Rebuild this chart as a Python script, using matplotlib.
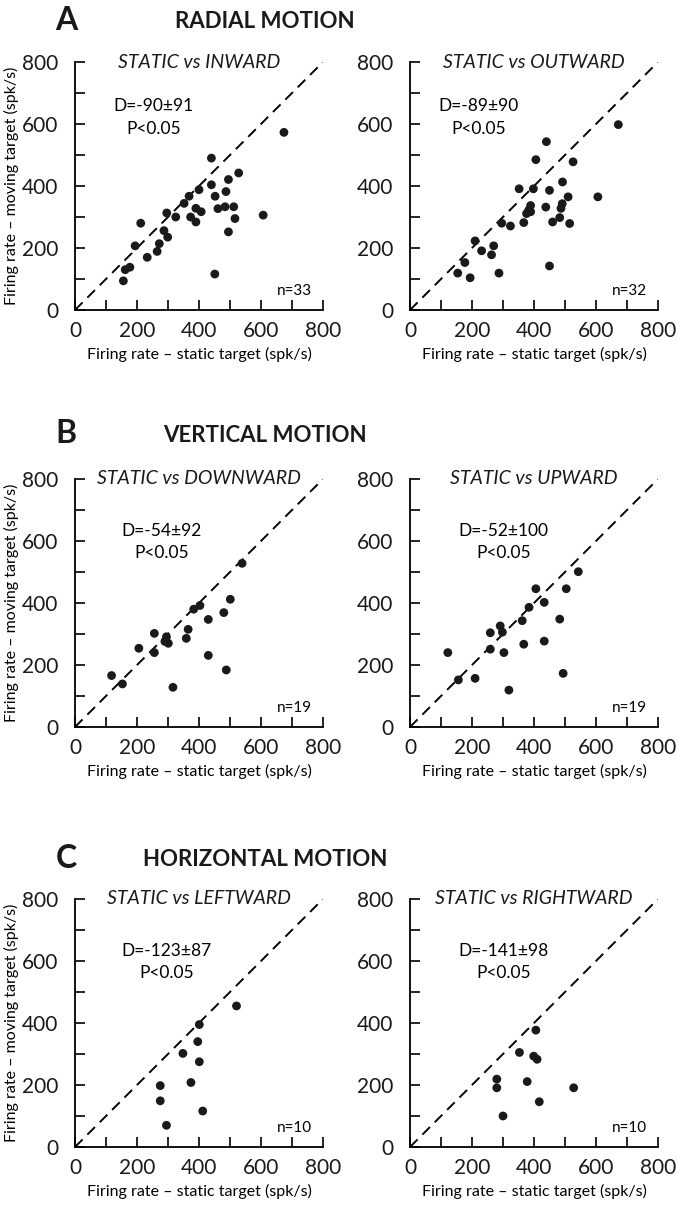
import numpy as np
import matplotlib
matplotlib.use("Agg")
import matplotlib.pyplot as plt

plt.rcParams['font.family'] = ['Lato', 'DejaVu Sans']

# static firing rate (x) vs moving-target firing rate (y), spk/s
inward_x = [674, 440, 528, 495, 440, 487, 400, 452, 368, 352, 390, 407, 461, 484, 512, 516, 607,
            495, 296, 325, 373, 390, 212, 287, 299, 272, 194, 265, 233, 177, 162, 156, 451]
inward_y = [573, 490, 442, 421, 404, 382, 388, 367, 367, 344, 328, 317, 327, 333, 333, 295, 306,
            252, 313, 300, 300, 284, 280, 256, 235, 214, 207, 189, 170, 138, 130, 94, 116]

outward_x = [672, 440, 406, 526, 492, 352, 398, 450, 510, 606, 389, 438, 491, 487, 376, 389,
             367, 460, 483, 515, 296, 324, 210, 270, 231, 263, 177, 154, 194, 287, 450, 383]
outward_y = [598, 543, 485, 478, 413, 391, 391, 386, 365, 365, 337, 332, 343, 328, 311, 317,
             282, 284, 298, 279, 280, 271, 223, 207, 191, 178, 153, 119, 104, 119, 142, 322]

downward_x = [539, 501, 480, 403, 383, 430, 365, 359, 256, 295, 290, 301, 206, 256, 430, 488, 118, 153, 316]
downward_y = [528, 412, 369, 392, 380, 347, 315, 286, 302, 291, 276, 270, 254, 240, 231, 184, 166, 139, 128]

upward_x = [543, 406, 504, 433, 384, 362, 483, 291, 259, 298, 367, 433, 259, 303, 122, 156, 210, 494, 319]
upward_y = [501, 446, 446, 402, 386, 343, 348, 326, 304, 306, 267, 277, 251, 240, 240, 152, 157, 173, 119]

leftward_x = [521, 401, 396, 348, 401, 374, 275, 275, 412, 295]
leftward_y = [455, 395, 340, 302, 275, 208, 198, 149, 116, 70]

rightward_x = [406, 353, 399, 410, 280, 280, 378, 528, 417, 300]
rightward_y = [377, 305, 293, 283, 219, 191, 211, 191, 146, 100]

titles = ['STATIC vs INWARD', 'STATIC vs OUTWARD', 'STATIC vs DOWNWARD',
          'STATIC vs UPWARD', 'STATIC vs LEFTWARD', 'STATIC vs RIGHTWARD']
stats = ['D=-90\u00b191', 'D=-89\u00b190', 'D=-54\u00b192',
         'D=-52\u00b1100', 'D=-123\u00b187', 'D=-141\u00b198']
stat_x = [253, 220, 280, 301, 296, 303]
counts = ['n=33', 'n=32', 'n=19', 'n=19', 'n=10', 'n=10']
letters = ['A', 'B', 'C']
headers = ['RADIAL MOTION', 'VERTICAL MOTION', 'HORIZONTAL MOTION']

xs = [inward_x, outward_x, downward_x, upward_x, leftward_x, rightward_x]
ys = [inward_y, outward_y, downward_y, upward_y, leftward_y, rightward_y]

W, H = 677, 1210
fig = plt.figure(figsize=(W / 100, H / 100), dpi=100)

lefts = [75, 410]
tops = [62, 479, 899]
size = 248

for i in range(6):
    row, col = i // 2, i % 2
    ax = fig.add_axes([lefts[col] / W, 1 - (tops[row] + size) / H, size / W, size / H])
    ax.plot([0, 800], [0, 800], color='black', lw=1.4, ls=(0, (5.5, 3.5)))
    ax.scatter(xs[i], ys[i], s=40, color='#1a1a1a', zorder=3, edgecolors='none')
    ax.set_xlim(0, 800)
    ax.set_ylim(0, 800)
    ax.spines['top'].set_visible(False)
    ax.spines['right'].set_visible(False)
    for s in ['left', 'bottom']:
        ax.spines[s].set_linewidth(1.3)
    ax.set_xticks(np.arange(0, 801, 200))
    ax.set_yticks(np.arange(0, 801, 200))
    ax.set_xticks(np.arange(100, 801, 200), minor=True)
    ax.set_yticks(np.arange(100, 801, 200), minor=True)
    ax.tick_params(which='both', direction='in', length=7, width=1.2, labelsize=15,
                   pad=8, color='black', labelcolor='#1a1a1a')
    ax.tick_params(axis='y', pad=12)
    ax.set_xlabel('Firing rate \u2013 static target (spk/s)', fontsize=11.5, labelpad=4)
    if col == 0:
        ax.set_ylabel('Firing rate \u2013 moving target (spk/s)', fontsize=11.5, labelpad=2)
    ax.text(0.5, 1.0, titles[i], transform=ax.transAxes, ha='center', va='center',
            fontsize=14, style='italic', color='#1a1a1a')
    ax.text(stat_x[i], 657 if row == 0 else 632, stats[i], ha='center', va='center', fontsize=12.5)
    ax.text(stat_x[i], 585 if row == 0 else 560, 'P<0.05', ha='center', va='center', fontsize=12.5)
    ax.text(763, 62, counts[i], ha='right', va='center', fontsize=11)

header_y = [20, 433, 858]
for r in range(3):
    fig.text(66 / W, 1 - header_y[r] / H, letters[r], ha='center', va='center',
             fontsize=23, fontweight='bold', color='#1a1a1a')
    fig.text(265 / W, 1 - (header_y[r] + 2) / H, headers[r], ha='center', va='center',
             fontsize=16, fontweight='bold', color='#1a1a1a')

fig.savefig('out.png', dpi=100)
